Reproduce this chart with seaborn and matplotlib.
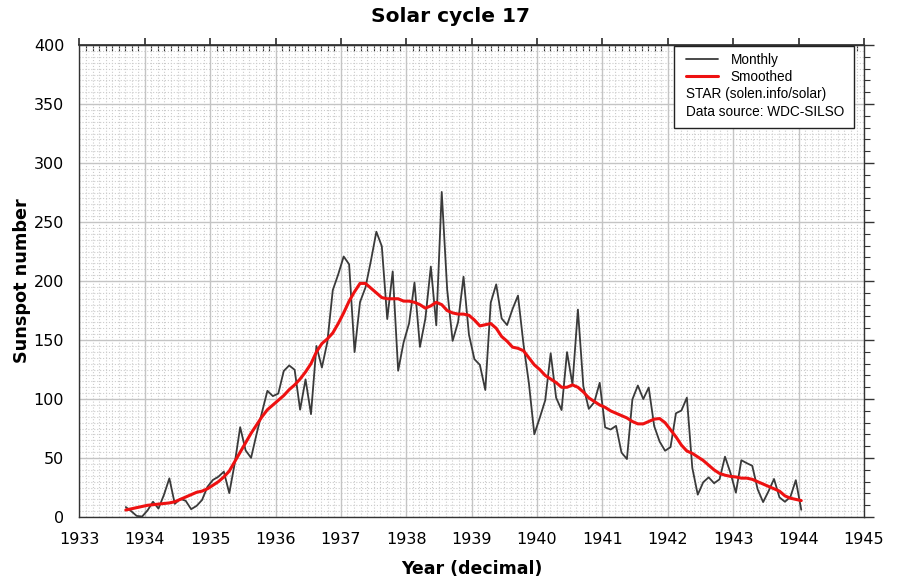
import pandas as pd
import seaborn as sns
import matplotlib.pyplot as plt
from matplotlib.ticker import MultipleLocator
from matplotlib.lines import Line2D
from matplotlib.patches import Rectangle

# Monthly mean sunspot number, Sep 1933 .. Jan 1944
monthly = [
    8.5, 5.0, 1.0, 0.5,                                                  # 1933 Sep-Dec
    5.7, 13.0, 7.2, 18.8, 32.8, 11.2, 15.5, 13.8, 6.7, 9.5, 14.5, 25.7,   # 1934
    31.5, 34.2, 38.5, 20.3, 45.5, 76.2, 56.5, 50.2, 70.2, 88.7, 107.0, 102.5,  # 1935
    104.7, 123.8, 128.5, 124.8, 91.0, 116.7, 87.2, 145.0, 126.7, 148.3, 192.3, 205.7,  # 1936
    220.8, 214.2, 139.8, 182.2, 194.5, 217.2, 241.8, 229.5, 167.8, 208.2, 124.0, 148.0,  # 1937
    164.0, 198.7, 144.2, 168.3, 212.3, 162.5, 275.5, 192.8, 149.3, 165.2, 203.7, 154.5,  # 1938
    133.8, 129.0, 107.7, 181.8, 197.2, 168.3, 162.7, 176.3, 187.7, 146.8, 113.5, 70.2,   # 1939
    84.2, 99.0, 138.8, 101.2, 90.7, 139.8, 112.5, 175.8, 110.8, 91.7, 97.3, 113.8,       # 1940
    76.0, 74.2, 77.3, 54.7, 49.2, 99.7, 111.5, 100.0, 109.8, 77.2, 64.0, 56.2,           # 1941
    59.3, 88.0, 90.3, 101.2, 41.7, 19.0, 29.5, 33.7, 28.7, 32.0, 51.2, 37.5,             # 1942
    20.7, 48.2, 45.7, 43.5, 23.5, 12.7, 22.0, 32.3, 16.7, 13.0, 17.0, 31.3,              # 1943
    6.2,                                                                 # 1944 Jan
]

# 13-month smoothed sunspot number, same months
smoothed = [
    6, 7, 8, 9,
    10, 10.5, 11, 11.5, 12, 13, 15, 17, 19, 21, 22, 24,
    27, 30, 34, 39, 47, 55, 63, 71, 78, 85, 91, 95,
    99, 103, 108, 112, 117, 123, 130, 140, 147, 151, 156, 164,
    173, 183, 191, 198, 198, 194, 190, 186, 185, 185, 185, 183,
    183, 182, 180, 177, 179, 182, 180, 175, 173, 172, 172, 171,
    167, 162, 163, 164, 160, 153, 149, 144, 143, 141, 135, 129,
    125, 120, 117, 114, 110, 110, 112, 110, 106, 101, 98, 95,
    93, 90, 88, 86, 84, 81, 79, 79, 81, 83, 83.5, 80,
    74, 68, 61, 56, 54, 51, 48, 44, 40, 37, 35.5, 34.5,
    34, 33, 33, 32, 30, 28, 26, 24, 22, 18, 16, 15,
    14,
]

months = pd.period_range("1933-09", "1944-01", freq="M")
df = pd.DataFrame({
    "year": months.year + (months.month - 0.5) / 12,
    "monthly": monthly,
    "smoothed": smoothed,
})

sns.set_theme(style="white")
plt.rcParams["font.family"] = ["DejaVu Sans"]
plt.rcParams["text.color"] = "black"
plt.rcParams["axes.labelcolor"] = "black"

fig = plt.figure(figsize=(8.97, 5.81), dpi=100)
ax = fig.add_axes([0.0886, 0.110, 0.8745, 0.8125])

sns.lineplot(data=df, x="year", y="monthly", ax=ax, color="#3a3a3a",
             linewidth=1.3, estimator=None, sort=False)
sns.lineplot(data=df, x="year", y="smoothed", ax=ax, color="#ee1111",
             linewidth=2.2, estimator=None, sort=False)

ax.set_xlim(1933, 1945)
ax.set_ylim(0, 400)
ax.xaxis.set_major_locator(MultipleLocator(1))
ax.xaxis.set_minor_locator(MultipleLocator(0.1))
ax.yaxis.set_major_locator(MultipleLocator(50))
ax.yaxis.set_minor_locator(MultipleLocator(10))

# grid: solid at major ticks, dotted fine grid
ax.set_axisbelow(True)
ax.grid(which="major", color="#c4c4c4", linewidth=1.0)
ax.grid(which="minor", axis="x", color="#cccccc", linewidth=0.8, linestyle=":")
for yv in range(5, 400, 5):
    if yv % 50:
        ax.axhline(yv, color="#cccccc", linewidth=0.8, linestyle=":", zorder=0)

for sp in ax.spines.values():
    sp.set_color("#333333")
    sp.set_linewidth(1.0)

ax.tick_params(which="major", direction="out", length=7, width=1.0,
               color="#333333", labelsize=11.5, labelcolor="black",
               right=True, pad=4)
ax.tick_params(which="minor", direction="out", length=4, width=0.8,
               color="#333333", right=True)
top = ax.secondary_xaxis("top")
top.xaxis.set_major_locator(MultipleLocator(1))
top.xaxis.set_minor_locator(MultipleLocator(0.1))
top.tick_params(which="major", direction="out", length=5, color="#333333", labeltop=False)
top.tick_params(which="minor", direction="in", length=4, width=0.8, color="#333333")
top.spines["top"].set_color("#333333")

ax.set_xlabel("Year (decimal)", fontsize=12.5, fontweight="bold", labelpad=9)
ax.set_ylabel("Sunspot number", fontsize=12.7, fontweight="bold", labelpad=2)
fig.suptitle("Solar cycle 17", x=0.502, y=0.988, fontsize=14.5, fontweight="bold")

# legend: frameless content plus a plain box behind it
ax.add_patch(Rectangle((0.7578, 0.824), 0.2295, 0.1745, transform=ax.transAxes,
                       facecolor="white", edgecolor="#222222", linewidth=1.0,
                       zorder=4.8, clip_on=False))
handles = [
    Line2D([], [], color="#3a3a3a", linewidth=1.3),
    Line2D([], [], color="#ee1111", linewidth=2.2),
    Line2D([], [], alpha=0),
    Line2D([], [], alpha=0),
]
labels = ["Monthly", "Smoothed", "STAR (solen.info/solar)", "Data source: WDC-SILSO"]
leg = ax.legend(handles, labels, loc="upper left", bbox_to_anchor=(0.7727, 0.984),
                borderaxespad=0, borderpad=0, frameon=False,
                prop={"family": "Liberation Sans", "size": 9.8},
                handlelength=2.4, handletextpad=0.9, labelspacing=0.25)
leg.set_zorder(5)
# text-only rows: drop the handle area so the text starts at the left edge
rows = leg._legend_handle_box.get_children()[0].get_children()
for row in rows[2:]:
    row.get_children()[0].width = 0
    row.sep = 0

fig.savefig("out.png", dpi=100)
